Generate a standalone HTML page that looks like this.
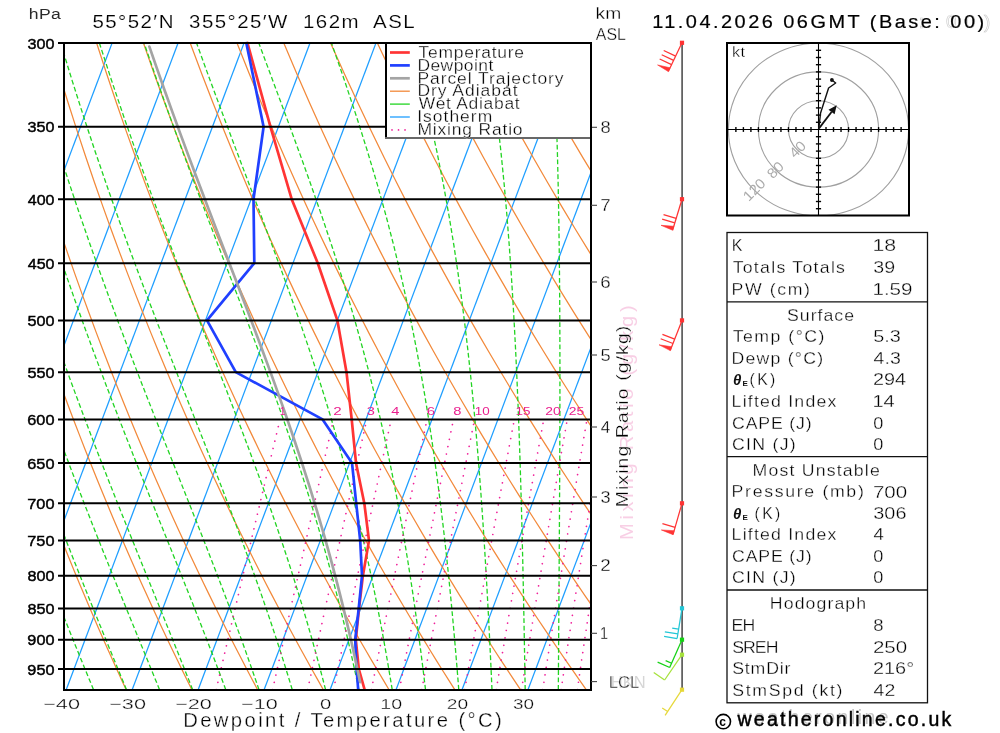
<!DOCTYPE html><html><head><meta charset="utf-8"><title>Skew-T Log-P diagram</title><style>html,body{margin:0;padding:0;background:#fff;overflow:hidden}svg{display:block}text{white-space:pre}.th{stroke:#fff;stroke-width:0.3px}.th2{stroke:#fff;stroke-width:0.15px}</style></head><body>
<svg width="1000" height="733" viewBox="0 0 1000 733" font-family="Liberation Sans, Arial, sans-serif">
<rect width="1000" height="733" fill="#fff"/>
<defs><clipPath id="pc"><rect x="64" y="43" width="527" height="647"/></clipPath><clipPath id="hc"><rect x="728" y="44" width="180.5" height="171"/></clipPath></defs>
<g clip-path="url(#pc)" fill="none">
<g stroke="#1e9eff" stroke-width="1.25"><line x1="-395.59" y1="689.7" x2="-151.78" y2="43"/><line x1="-329.62" y1="689.7" x2="-85.81" y2="43"/><line x1="-263.65" y1="689.7" x2="-19.84" y2="43"/><line x1="-197.68" y1="689.7" x2="46.13" y2="43"/><line x1="-131.71" y1="689.7" x2="112.1" y2="43"/><line x1="-65.74" y1="689.7" x2="178.07" y2="43"/><line x1="0.23" y1="689.7" x2="244.04" y2="43"/><line x1="66.2" y1="689.7" x2="310.01" y2="43"/><line x1="132.17" y1="689.7" x2="375.98" y2="43"/><line x1="198.14" y1="689.7" x2="441.95" y2="43"/><line x1="264.11" y1="689.7" x2="507.92" y2="43"/><line x1="330.08" y1="689.7" x2="573.89" y2="43"/><line x1="396.05" y1="689.7" x2="639.86" y2="43"/><line x1="462.02" y1="689.7" x2="705.83" y2="43"/><line x1="527.99" y1="689.7" x2="771.8" y2="43"/><line x1="593.96" y1="689.7" x2="837.77" y2="43"/></g>
<g stroke="#f2893a" stroke-width="1.25"><polyline points="60.43,689.7 56.26,679.92 52.06,669.96 47.82,659.82 43.54,649.48 39.23,638.94 34.88,628.19 30.49,617.23 26.05,606.04 21.58,594.61 17.07,582.94 12.51,571.01 7.91,558.82 3.27,546.34 -1.42,533.57 -6.16,520.49 -10.95,507.1 -15.78,493.36 -20.67,479.26 -25.61,464.79 -30.6,449.93 -35.64,434.64 -40.74,418.91 -45.9,402.72 -51.12,386.02 -56.4,368.8 -61.74,351.01 -67.14,332.62 -72.61,313.58 -78.14,293.86 -83.74,273.38 -89.41,252.11 -95.14,229.97 -100.95,206.89 -106.83,182.78 -112.78,157.56 -118.8,131.1 -124.9,103.29 -131.06,73.98 -137.28,43"/><polyline points="126.15,689.7 121.65,679.92 117.1,669.96 112.52,659.82 107.89,649.48 103.22,638.94 98.51,628.19 93.75,617.23 88.95,606.04 84.1,594.61 79.21,582.94 74.26,571.01 69.27,558.82 64.22,546.34 59.12,533.57 53.97,520.49 48.76,507.1 43.5,493.36 38.17,479.26 32.79,464.79 27.34,449.93 21.83,434.64 16.26,418.91 10.62,402.72 4.91,386.02 -0.88,368.8 -6.73,351.01 -12.66,332.62 -18.67,313.58 -24.76,293.86 -30.93,273.38 -37.19,252.11 -43.53,229.97 -49.96,206.89 -56.48,182.78 -63.09,157.56 -69.8,131.1 -76.61,103.29 -83.5,73.98 -90.5,43"/><polyline points="191.87,689.7 187.03,679.92 182.14,669.96 177.21,659.82 172.24,649.48 167.21,638.94 162.14,628.19 157.02,617.23 151.85,606.04 146.62,594.61 141.34,582.94 136.01,571.01 130.62,558.82 125.17,546.34 119.67,533.57 114.1,520.49 108.47,507.1 102.78,493.36 97.02,479.26 91.19,464.79 85.29,449.93 79.31,434.64 73.26,418.91 67.14,402.72 60.93,386.02 54.65,368.8 48.27,351.01 41.81,332.62 35.26,313.58 28.62,293.86 21.88,273.38 15.03,252.11 8.09,229.97 1.03,206.89 -6.13,182.78 -13.41,157.56 -20.8,131.1 -28.31,103.29 -35.95,73.98 -43.71,43"/><polyline points="257.6,689.7 252.42,679.92 247.19,669.96 241.91,659.82 236.58,649.48 231.2,638.94 225.77,628.19 220.28,617.23 214.74,606.04 209.14,594.61 203.48,582.94 197.76,571.01 191.97,558.82 186.13,546.34 180.21,533.57 174.23,520.49 168.18,507.1 162.06,493.36 155.86,479.26 149.58,464.79 143.23,449.93 136.79,434.64 130.27,418.91 123.66,402.72 116.96,386.02 110.17,368.8 103.28,351.01 96.29,332.62 89.2,313.58 82,293.86 74.68,273.38 67.25,252.11 59.7,229.97 52.03,206.89 44.22,182.78 36.28,157.56 28.2,131.1 19.98,103.29 11.6,73.98 3.07,43"/><polyline points="323.32,689.7 317.8,679.92 312.23,669.96 306.61,659.82 300.93,649.48 295.2,638.94 289.4,628.19 283.55,617.23 277.64,606.04 271.66,594.61 265.62,582.94 259.51,571.01 253.33,558.82 247.08,546.34 240.76,533.57 234.36,520.49 227.89,507.1 221.33,493.36 214.7,479.26 207.98,464.79 201.17,449.93 194.27,434.64 187.27,418.91 180.18,402.72 172.99,386.02 165.69,368.8 158.29,351.01 150.77,332.62 143.13,313.58 135.37,293.86 127.49,273.38 119.47,252.11 111.32,229.97 103.02,206.89 94.57,182.78 85.97,157.56 77.21,131.1 68.27,103.29 59.16,73.98 49.86,43"/><polyline points="389.04,689.7 383.19,679.92 377.28,669.96 371.31,659.82 365.28,649.48 359.19,638.94 353.04,628.19 346.82,617.23 340.53,606.04 334.18,594.61 327.75,582.94 321.25,571.01 314.68,558.82 308.03,546.34 301.3,533.57 294.49,520.49 287.6,507.1 280.61,493.36 273.54,479.26 266.37,464.79 259.11,449.93 251.75,434.64 244.28,418.91 236.7,402.72 229.02,386.02 221.21,368.8 213.29,351.01 205.24,332.62 197.07,313.58 188.75,293.86 180.3,273.38 171.69,252.11 162.94,229.97 154.02,206.89 144.93,182.78 135.66,157.56 126.21,131.1 116.56,103.29 106.71,73.98 96.64,43"/><polyline points="454.76,689.7 448.57,679.92 442.32,669.96 436.01,659.82 429.63,649.48 423.18,638.94 416.67,628.19 410.08,617.23 403.43,606.04 396.7,594.61 389.89,582.94 383,571.01 376.04,558.82 368.99,546.34 361.85,533.57 354.62,520.49 347.3,507.1 339.89,493.36 332.38,479.26 324.77,464.79 317.05,449.93 309.22,434.64 301.28,418.91 293.22,402.72 285.04,386.02 276.74,368.8 268.3,351.01 259.72,332.62 251,313.58 242.13,293.86 233.1,273.38 223.91,252.11 214.55,229.97 205.01,206.89 195.28,182.78 185.35,157.56 175.21,131.1 164.85,103.29 154.26,73.98 143.43,43"/><polyline points="520.49,689.7 513.96,679.92 507.37,669.96 500.71,659.82 493.98,649.48 487.17,638.94 480.3,628.19 473.35,617.23 466.32,606.04 459.21,594.61 452.03,582.94 444.75,571.01 437.39,558.82 429.94,546.34 422.39,533.57 414.75,520.49 407.01,507.1 399.17,493.36 391.22,479.26 383.16,464.79 374.99,449.93 366.7,434.64 358.29,418.91 349.75,402.72 341.07,386.02 332.26,368.8 323.3,351.01 314.2,332.62 304.94,313.58 295.51,293.86 285.91,273.38 276.13,252.11 266.17,229.97 256,206.89 245.63,182.78 235.04,157.56 224.21,131.1 213.14,103.29 201.82,73.98 190.21,43"/><polyline points="586.21,689.7 579.34,679.92 572.41,669.96 565.4,659.82 558.32,649.48 551.17,638.94 543.93,628.19 536.62,617.23 529.22,606.04 521.73,594.61 514.16,582.94 506.5,571.01 498.74,558.82 490.89,546.34 482.94,533.57 474.88,520.49 466.72,507.1 458.45,493.36 450.06,479.26 441.56,464.79 432.93,449.93 424.18,434.64 415.29,418.91 406.27,402.72 397.1,386.02 387.78,368.8 378.31,351.01 368.68,332.62 358.87,313.58 348.89,293.86 338.72,273.38 328.35,252.11 317.78,229.97 307,206.89 295.98,182.78 284.73,157.56 273.22,131.1 261.44,103.29 249.37,73.98 237,43"/><polyline points="651.93,689.7 644.73,679.92 637.45,669.96 630.1,659.82 622.67,649.48 615.16,638.94 607.56,628.19 599.88,617.23 592.11,606.04 584.25,594.61 576.3,582.94 568.25,571.01 560.1,558.82 551.84,546.34 543.48,533.57 535.01,520.49 526.43,507.1 517.73,493.36 508.91,479.26 499.95,464.79 490.87,449.93 481.66,434.64 472.3,418.91 462.79,402.72 453.13,386.02 443.31,368.8 433.32,351.01 423.15,332.62 412.81,313.58 402.27,293.86 391.53,273.38 380.57,252.11 369.4,229.97 357.99,206.89 346.33,182.78 334.42,157.56 322.22,131.1 309.73,103.29 296.92,73.98 283.78,43"/><polyline points="717.65,689.7 710.12,679.92 702.5,669.96 694.8,659.82 687.02,649.48 679.15,638.94 671.2,628.19 663.15,617.23 655.01,606.04 646.77,594.61 638.43,582.94 630,571.01 621.45,558.82 612.8,546.34 604.03,533.57 595.14,520.49 586.14,507.1 577.01,493.36 567.75,479.26 558.35,464.79 548.81,449.93 539.13,434.64 529.3,418.91 519.31,402.72 509.15,386.02 498.83,368.8 488.32,351.01 477.63,332.62 466.74,313.58 455.64,293.86 444.33,273.38 432.79,252.11 421.02,229.97 408.98,206.89 396.69,182.78 384.1,157.56 371.22,131.1 358.02,103.29 344.48,73.98 330.57,43"/><polyline points="783.38,689.7 775.5,679.92 767.54,669.96 759.5,659.82 751.37,649.48 743.14,638.94 734.83,628.19 726.41,617.23 717.9,606.04 709.29,594.61 700.57,582.94 691.74,571.01 682.8,558.82 673.75,546.34 664.57,533.57 655.27,520.49 645.85,507.1 636.29,493.36 626.59,479.26 616.75,464.79 606.76,449.93 596.61,434.64 586.3,418.91 575.83,402.72 565.18,386.02 554.35,368.8 543.33,351.01 532.11,332.62 520.67,313.58 509.02,293.86 497.14,273.38 485.01,252.11 472.63,229.97 459.98,206.89 447.04,182.78 433.79,157.56 420.22,131.1 406.31,103.29 392.03,73.98 377.36,43"/><polyline points="849.1,689.7 840.89,679.92 832.59,669.96 824.2,659.82 815.71,649.48 807.14,638.94 798.46,628.19 789.68,617.23 780.8,606.04 771.81,594.61 762.71,582.94 753.49,571.01 744.16,558.82 734.7,546.34 725.12,533.57 715.4,520.49 705.56,507.1 695.57,493.36 685.43,479.26 675.14,464.79 664.7,449.93 654.09,434.64 643.31,418.91 632.35,402.72 621.21,386.02 609.87,368.8 598.33,351.01 586.58,332.62 574.61,313.58 562.4,293.86 549.95,273.38 537.23,252.11 524.25,229.97 510.97,206.89 497.39,182.78 483.48,157.56 469.23,131.1 454.6,103.29 439.58,73.98 424.14,43"/><polyline points="914.82,689.7 906.27,679.92 897.63,669.96 888.9,659.82 880.06,649.48 871.13,638.94 862.09,628.19 852.95,617.23 843.69,606.04 834.33,594.61 824.84,582.94 815.24,571.01 805.51,558.82 795.65,546.34 785.66,533.57 775.54,520.49 765.26,507.1 754.84,493.36 744.27,479.26 733.54,464.79 722.64,449.93 711.57,434.64 700.31,418.91 688.87,402.72 677.24,386.02 665.4,368.8 653.34,351.01 641.06,332.62 628.54,313.58 615.78,293.86 602.75,273.38 589.45,252.11 575.86,229.97 561.97,206.89 547.74,182.78 533.17,157.56 518.23,131.1 502.89,103.29 487.14,73.98 470.93,43"/><polyline points="980.54,689.7 971.66,679.92 962.68,669.96 953.59,659.82 944.41,649.48 935.12,638.94 925.72,628.19 916.21,617.23 906.59,606.04 896.85,594.61 886.98,582.94 876.99,571.01 866.87,558.82 856.61,546.34 846.21,533.57 835.67,520.49 824.97,507.1 814.12,493.36 803.11,479.26 791.93,464.79 780.58,449.93 769.04,434.64 757.32,418.91 745.39,402.72 733.26,386.02 720.92,368.8 708.35,351.01 695.54,332.62 682.48,313.58 669.16,293.86 655.56,273.38 641.67,252.11 627.48,229.97 612.96,206.89 598.09,182.78 582.86,157.56 567.23,131.1 551.19,103.29 534.69,73.98 517.71,43"/><polyline points="1046.27,689.7 1037.04,679.92 1027.72,669.96 1018.29,659.82 1008.76,649.48 999.11,638.94 989.35,628.19 979.48,617.23 969.48,606.04 959.36,594.61 949.12,582.94 938.74,571.01 928.22,558.82 917.56,546.34 906.75,533.57 895.8,520.49 884.68,507.1 873.4,493.36 861.95,479.26 850.33,464.79 838.52,449.93 826.52,434.64 814.32,418.91 801.92,402.72 789.29,386.02 776.44,368.8 763.35,351.01 750.01,332.62 736.41,313.58 722.54,293.86 708.37,273.38 693.89,252.11 679.1,229.97 663.95,206.89 648.44,182.78 632.55,157.56 616.23,131.1 599.48,103.29 582.24,73.98 564.5,43"/><polyline points="1111.99,689.7 1102.43,679.92 1092.76,669.96 1082.99,659.82 1073.11,649.48 1063.11,638.94 1052.99,628.19 1042.75,617.23 1032.38,606.04 1021.88,594.61 1011.25,582.94 1000.48,571.01 989.57,558.82 978.51,546.34 967.3,533.57 955.93,520.49 944.39,507.1 932.68,493.36 920.79,479.26 908.72,464.79 896.46,449.93 884,434.64 871.33,418.91 858.44,402.72 845.32,386.02 831.96,368.8 818.36,351.01 804.49,332.62 790.35,313.58 775.91,293.86 761.18,273.38 746.11,252.11 730.71,229.97 714.95,206.89 698.8,182.78 682.24,157.56 665.24,131.1 647.77,103.29 629.8,73.98 611.28,43"/><polyline points="1177.71,689.7 1167.81,679.92 1157.81,669.96 1147.69,659.82 1137.45,649.48 1127.1,638.94 1116.62,628.19 1106.01,617.23 1095.28,606.04 1084.4,594.61 1073.39,582.94 1062.23,571.01 1050.93,558.82 1039.47,546.34 1027.84,533.57 1016.06,520.49 1004.1,507.1 991.96,493.36 979.64,479.26 967.12,464.79 954.4,449.93 941.48,434.64 928.33,418.91 914.96,402.72 901.35,386.02 887.49,368.8 873.36,351.01 858.97,332.62 844.28,313.58 829.29,293.86 813.98,273.38 798.34,252.11 782.33,229.97 765.94,206.89 749.15,182.78 731.92,157.56 714.24,131.1 696.06,103.29 677.35,73.98 658.07,43"/><polyline points="1243.43,689.7 1233.2,679.92 1222.85,669.96 1212.39,659.82 1201.8,649.48 1191.09,638.94 1180.25,628.19 1169.28,617.23 1158.17,606.04 1146.92,594.61 1135.53,582.94 1123.98,571.01 1112.28,558.82 1100.42,546.34 1088.39,533.57 1076.19,520.49 1063.81,507.1 1051.24,493.36 1038.48,479.26 1025.52,464.79 1012.34,449.93 998.95,434.64 985.34,418.91 971.48,402.72 957.37,386.02 943.01,368.8 928.37,351.01 913.44,332.62 898.22,313.58 882.67,293.86 866.79,273.38 850.56,252.11 833.94,229.97 816.93,206.89 799.5,182.78 781.61,157.56 763.24,131.1 744.35,103.29 724.9,73.98 704.85,43"/><polyline points="1309.15,689.7 1298.58,679.92 1287.9,669.96 1277.09,659.82 1266.15,649.48 1255.08,638.94 1243.88,628.19 1232.55,617.23 1221.07,606.04 1209.44,594.61 1197.66,582.94 1185.73,571.01 1173.63,558.82 1161.37,546.34 1148.93,533.57 1136.32,520.49 1123.51,507.1 1110.52,493.36 1097.32,479.26 1083.91,464.79 1070.29,449.93 1056.43,434.64 1042.34,418.91 1028,402.72 1013.4,386.02 998.53,368.8 983.38,351.01 967.92,332.62 952.15,313.58 936.05,293.86 919.6,273.38 902.78,252.11 885.56,229.97 867.93,206.89 849.85,182.78 831.3,157.56 812.24,131.1 792.64,103.29 772.46,73.98 751.64,43"/><polyline points="1374.88,689.7 1363.97,679.92 1352.94,669.96 1341.78,659.82 1330.5,649.48 1319.07,638.94 1307.51,628.19 1295.81,617.23 1283.96,606.04 1271.96,594.61 1259.8,582.94 1247.48,571.01 1234.99,558.82 1222.32,546.34 1209.48,533.57 1196.45,520.49 1183.22,507.1 1169.8,493.36 1156.16,479.26 1142.31,464.79 1128.23,449.93 1113.91,434.64 1099.34,418.91 1084.52,402.72 1069.43,386.02 1054.05,368.8 1038.38,351.01 1022.4,332.62 1006.09,313.58 989.43,293.86 972.41,273.38 955,252.11 937.18,229.97 918.92,206.89 900.2,182.78 880.99,157.56 861.25,131.1 840.94,103.29 820.01,73.98 798.42,43"/></g>
<g stroke="#22d422" stroke-width="1.3" stroke-dasharray="4.8 2.6"><polyline points="60.58,689.7 55.38,676.91 50.1,663.81 44.73,650.38 39.27,636.62 33.73,622.5 28.1,608 22.39,593.1 16.58,577.79 10.69,562.02 4.71,545.79 -1.37,529.06 -7.53,511.79 -13.79,493.96 -20.15,475.52 -26.6,456.44 -33.15,436.66 -39.81,416.13 -46.56,394.8 -53.42,372.59 -60.39,349.43 -67.47,325.25 -74.67,299.94 -81.98,273.38 -89.41,245.47 -96.96,216.04 -104.63,184.92 -112.43,151.92 -120.34,116.77 -128.38,79.2 -135.72,43"/><polyline points="93.53,689.7 88.25,676.91 82.87,663.81 77.4,650.38 71.82,636.62 66.14,622.5 60.35,608 54.47,593.1 48.48,577.79 42.39,562.02 36.2,545.79 29.9,529.06 23.49,511.79 16.98,493.96 10.36,475.52 3.63,456.44 -3.21,436.66 -10.17,416.13 -17.24,394.8 -24.43,372.59 -31.74,349.43 -39.17,325.25 -46.73,299.94 -54.43,273.38 -62.25,245.47 -70.22,216.04 -78.32,184.92 -86.57,151.92 -94.96,116.77 -103.5,79.2 -111.3,43"/><polyline points="126.51,689.7 121.22,676.91 115.82,663.81 110.29,650.38 104.64,636.62 98.87,622.5 92.98,608 86.97,593.1 80.84,577.79 74.59,562.02 68.21,545.79 61.71,529.06 55.09,511.79 48.35,493.96 41.48,475.52 34.49,456.44 27.36,436.66 20.11,416.13 12.73,394.8 5.22,372.59 -2.44,349.43 -10.23,325.25 -18.16,299.94 -26.24,273.38 -34.47,245.47 -42.86,216.04 -51.41,184.92 -60.11,151.92 -68.99,116.77 -78.03,79.2 -86.31,43"/><polyline points="159.55,689.7 154.33,676.91 148.97,663.81 143.47,650.38 137.83,636.62 132.04,622.5 126.11,608 120.04,593.1 113.82,577.79 107.46,562.02 100.95,545.79 94.29,529.06 87.5,511.79 80.55,493.96 73.46,475.52 66.23,456.44 58.84,436.66 51.31,416.13 43.63,394.8 35.79,372.59 27.8,349.43 19.65,325.25 11.34,299.94 2.87,273.38 -5.78,245.47 -14.6,216.04 -23.59,184.92 -32.78,151.92 -42.15,116.77 -51.71,79.2 -60.49,43"/><polyline points="192.64,689.7 187.59,676.91 182.38,663.81 177.01,650.38 171.47,636.62 165.76,622.5 159.88,608 153.83,593.1 147.61,577.79 141.22,562.02 134.65,545.79 127.9,529.06 120.99,511.79 113.9,493.96 106.63,475.52 99.19,456.44 91.58,436.66 83.79,416.13 75.82,394.8 67.68,372.59 59.36,349.43 50.86,325.25 42.17,299.94 33.29,273.38 24.23,245.47 14.96,216.04 5.5,184.92 -4.18,151.92 -14.07,116.77 -24.18,79.2 -33.47,43"/><polyline points="225.79,689.7 221.02,676.91 216.08,663.81 210.95,650.38 205.63,636.62 200.12,622.5 194.42,608 188.51,593.1 182.4,577.79 176.09,562.02 169.57,545.79 162.83,529.06 155.89,511.79 148.74,493.96 141.37,475.52 133.79,456.44 126.01,436.66 118.01,416.13 109.8,394.8 101.38,372.59 92.75,349.43 83.9,325.25 74.84,299.94 65.57,273.38 56.07,245.47 46.35,216.04 36.4,184.92 26.21,151.92 15.77,116.77 5.09,79.2 -4.75,43"/><polyline points="259,689.7 254.63,676.91 250.07,663.81 245.32,650.38 240.36,636.62 235.19,622.5 229.8,608 224.18,593.1 218.34,577.79 212.25,562.02 205.92,545.79 199.35,529.06 192.52,511.79 185.43,493.96 178.09,475.52 170.49,456.44 162.63,436.66 154.51,416.13 146.13,394.8 137.49,372.59 128.6,349.43 119.45,325.25 110.04,299.94 100.37,273.38 90.44,245.47 80.25,216.04 69.79,184.92 59.06,151.92 48.05,116.77 36.75,79.2 26.32,43"/><polyline points="292.27,689.7 288.39,676.91 284.33,663.81 280.07,650.38 275.6,636.62 270.92,622.5 266.01,608 260.85,593.1 255.45,577.79 249.77,562.02 243.83,545.79 237.6,529.06 231.08,511.79 224.26,493.96 217.13,475.52 209.68,456.44 201.92,436.66 193.84,416.13 185.43,394.8 176.7,372.59 167.64,349.43 158.27,325.25 148.57,299.94 138.56,273.38 128.22,245.47 117.57,216.04 106.6,184.92 95.3,151.92 83.67,116.77 71.71,79.2 60.64,43"/><polyline points="325.57,689.7 322.26,676.91 318.78,663.81 315.12,650.38 311.26,636.62 307.2,622.5 302.91,608 298.37,593.1 293.59,577.79 288.53,562.02 283.19,545.79 277.55,529.06 271.58,511.79 265.27,493.96 258.62,475.52 251.6,456.44 244.2,436.66 236.4,416.13 228.21,394.8 219.61,372.59 210.61,349.43 201.19,325.25 191.35,299.94 181.11,273.38 170.46,245.47 159.4,216.04 147.94,184.92 136.08,151.92 123.82,116.77 111.14,79.2 99.39,43"/><polyline points="358.89,689.7 356.19,676.91 353.34,663.81 350.34,650.38 347.16,636.62 343.8,622.5 340.24,608 336.46,593.1 332.44,577.79 328.18,562.02 323.64,545.79 318.8,529.06 313.64,511.79 308.14,493.96 302.27,475.52 296.01,456.44 289.32,436.66 282.2,416.13 274.6,394.8 266.51,372.59 257.92,349.43 248.8,325.25 239.15,299.94 228.96,273.38 218.23,245.47 206.96,216.04 195.15,184.92 182.81,151.92 169.94,116.77 156.56,79.2 144.06,43"/><polyline points="392.21,689.7 390.11,676.91 387.9,663.81 385.57,650.38 383.09,636.62 380.47,622.5 377.68,608 374.72,593.1 371.56,577.79 368.18,562.02 364.57,545.79 360.7,529.06 356.55,511.79 352.09,493.96 347.28,475.52 342.1,456.44 336.51,436.66 330.47,416.13 323.93,394.8 316.87,372.59 309.24,349.43 300.99,325.25 292.09,299.94 282.5,273.38 272.21,245.47 261.19,216.04 249.42,184.92 236.92,151.92 223.69,116.77 209.72,79.2 196.55,43"/><polyline points="425.51,689.7 423.98,676.91 422.37,663.81 420.67,650.38 418.87,636.62 416.96,622.5 414.93,608 412.77,593.1 410.46,577.79 407.99,562.02 405.33,545.79 402.48,529.06 399.41,511.79 396.09,493.96 392.5,475.52 388.59,456.44 384.34,436.66 379.7,416.13 374.63,394.8 369.07,372.59 362.96,349.43 356.24,325.25 348.84,299.94 340.69,273.38 331.7,245.47 321.83,216.04 310.99,184.92 299.14,151.92 286.24,116.77 272.28,79.2 258.8,43"/><polyline points="458.77,689.7 457.76,676.91 456.69,663.81 455.56,650.38 454.37,636.62 453.11,622.5 451.76,608 450.33,593.1 448.8,577.79 447.16,562.02 445.4,545.79 443.5,529.06 441.45,511.79 439.23,493.96 436.82,475.52 434.2,456.44 431.32,436.66 428.17,416.13 424.69,394.8 420.84,372.59 416.56,349.43 411.8,325.25 406.46,299.94 400.47,273.38 393.72,245.47 386.09,216.04 377.45,184.92 367.66,151.92 356.57,116.77 344.06,79.2 331.5,43"/><polyline points="491.99,689.7 491.42,676.91 490.82,663.81 490.18,650.38 489.51,636.62 488.8,622.5 488.04,608 487.23,593.1 486.37,577.79 485.44,562.02 484.45,545.79 483.37,529.06 482.21,511.79 480.95,493.96 479.57,475.52 478.07,456.44 476.41,436.66 474.59,416.13 472.57,394.8 470.31,372.59 467.79,349.43 464.95,325.25 461.74,299.94 458.08,273.38 453.9,245.47 449.07,216.04 443.48,184.92 436.95,151.92 429.29,116.77 420.25,79.2 410.7,43"/><polyline points="525.18,689.7 524.97,676.91 524.75,663.81 524.52,650.38 524.27,636.62 524.01,622.5 523.73,608 523.44,593.1 523.12,577.79 522.77,562.02 522.39,545.79 521.99,529.06 521.54,511.79 521.05,493.96 520.5,475.52 519.9,456.44 519.23,436.66 518.48,416.13 517.63,394.8 516.67,372.59 515.58,349.43 514.32,325.25 512.88,299.94 511.21,273.38 509.25,245.47 506.96,216.04 504.23,184.92 500.96,151.92 497.02,116.77 492.21,79.2 486.93,43"/><polyline points="558.32,689.7 558.4,676.91 558.49,663.81 558.58,650.38 558.67,636.62 558.77,622.5 558.86,608 558.97,593.1 559.07,577.79 559.18,562.02 559.28,545.79 559.39,529.06 559.49,511.79 559.59,493.96 559.68,475.52 559.76,456.44 559.84,436.66 559.89,416.13 559.92,394.8 559.93,372.59 559.9,349.43 559.82,325.25 559.69,299.94 559.48,273.38 559.18,245.47 558.75,216.04 558.17,184.92 557.38,151.92 556.31,116.77 554.89,79.2 553.19,43"/><polyline points="591.43,689.7 591.73,676.91 592.05,663.81 592.39,650.38 592.74,636.62 593.1,622.5 593.49,608 593.89,593.1 594.32,577.79 594.76,562.02 595.23,545.79 595.71,529.06 596.22,511.79 596.76,493.96 597.32,475.52 597.9,456.44 598.51,436.66 599.15,416.13 599.82,394.8 600.51,372.59 601.23,349.43 601.98,325.25 602.76,299.94 603.57,273.38 604.4,245.47 605.24,216.04 606.1,184.92 606.96,151.92 607.81,116.77 608.62,79.2 609.29,43"/></g>
<g stroke="#f0209a" stroke-width="1.7" stroke-dasharray="0.01 7.5" stroke-linecap="round"><polyline points="216.17,689.7 220.76,669.99 225.53,649.54 230.5,628.29 235.69,606.17 241.11,583.11 246.79,559.04 252.74,533.84 259.01,507.42 265.62,479.64 272.6,450.37 280.01,419.43"/><polyline points="272.62,689.7 276.99,669.99 281.54,649.54 286.28,628.29 291.22,606.17 296.39,583.11 301.81,559.04 307.5,533.84 313.48,507.42 319.8,479.64 326.48,450.37 333.56,419.43"/><polyline points="307.67,689.7 311.9,669.99 316.3,649.54 320.89,628.29 325.68,606.17 330.69,583.11 335.95,559.04 341.46,533.84 347.27,507.42 353.39,479.64 359.88,450.37 366.76,419.43"/><polyline points="333.51,689.7 337.64,669.99 341.93,649.54 346.41,628.29 351.08,606.17 355.97,583.11 361.1,559.04 366.49,533.84 372.16,507.42 378.15,479.64 384.49,450.37 391.22,419.43"/><polyline points="371.4,689.7 375.37,669.99 379.5,649.54 383.81,628.29 388.31,606.17 393.03,583.11 397.97,559.04 403.16,533.84 408.63,507.42 414.41,479.64 420.53,450.37 427.03,419.43"/><polyline points="399.39,689.7 403.23,669.99 407.24,649.54 411.43,628.29 415.8,606.17 420.38,583.11 425.18,559.04 430.23,533.84 435.55,507.42 441.17,479.64 447.12,450.37 453.45,419.43"/><polyline points="421.75,689.7 425.51,669.99 429.42,649.54 433.5,628.29 437.76,606.17 442.23,583.11 446.92,559.04 451.85,533.84 457.05,507.42 462.54,479.64 468.37,450.37 474.55,419.43"/><polyline points="464.72,689.7 468.22,669.99 471.87,649.54 475.68,628.29 479.68,606.17 483.87,583.11 488.27,559.04 492.91,533.84 497.8,507.42 502.98,479.64 508.48,450.37 514.33,419.43"/><polyline points="496.21,689.7 499.55,669.99 503.03,649.54 506.68,628.29 510.5,606.17 514.5,583.11 518.72,559.04 523.16,533.84 527.86,507.42 532.83,479.64 538.11,450.37 543.74,419.43"/><polyline points="521.48,689.7 524.68,669.99 528.03,649.54 531.53,628.29 535.2,606.17 539.05,583.11 543.11,559.04 547.4,533.84 551.92,507.42 556.72,479.64 561.82,450.37 567.26,419.43"/><polyline points="542.71,689.7 545.79,669.99 549.01,649.54 552.38,628.29 555.93,606.17 559.65,583.11 563.57,559.04 567.71,533.84 572.1,507.42 576.74,479.64 581.69,450.37 586.97,419.43"/><polyline points="561.08,689.7 564.05,669.99 567.16,649.54 570.42,628.29 573.85,606.17 577.46,583.11 581.26,559.04 585.27,533.84 589.52,507.42 594.04,479.64 598.84,450.37 603.98,419.43"/><polyline points="577.32,689.7 580.19,669.99 583.2,649.54 586.36,628.29 589.68,606.17 593.18,583.11 596.87,559.04 600.77,533.84 604.91,507.42 609.3,479.64 613.98,450.37 618.98,419.43"/></g>
</g>
<g fill="none" stroke-linejoin="round" stroke-linecap="round" stroke-width="2.7">
<polyline stroke="#ff3434" points="364.6,689.7 358.8,669 355.8,639.63 359,608.59 362.9,575.67 369,540.62 364.3,503.15 356,462.9 351.7,419.43 346.5,372.18 337.4,320.42 317.8,263.2 291.7,199.23 270.4,126.72 247.5,43"/>
<polyline stroke="#2040ff" points="358.2,689.7 356.6,669 355.2,639.63 358.7,608.59 362,575.67 360.2,540.62 356.2,503.15 352,462.9 322.6,419.43 235.8,372.18 207,320.42 254.3,263.2 253.5,199.23 263.6,126.72 246.3,43"/>
<polyline stroke="#a4a4a4" points="360.15,682.21 358.57,674.65 356.93,666.98 355.25,659.2 353.5,651.31 351.71,643.3 349.85,635.17 347.92,626.92 345.94,618.54 343.88,610.03 341.75,601.38 339.54,592.59 337.26,583.66 334.89,574.58 332.43,565.35 329.88,555.95 327.23,546.39 324.49,536.66 321.63,526.75 318.67,516.66 315.6,506.37 312.4,495.89 309.08,485.2 305.62,474.3 302.03,463.17 298.3,451.81 294.42,440.21 290.39,428.35 286.21,416.23 281.86,403.84 277.34,391.15 272.65,378.16 267.79,364.85 262.75,351.21 257.52,337.21 252.11,322.85 246.52,308.09 240.73,292.93 234.75,277.32 228.59,261.26 222.23,244.71 215.68,227.63 208.94,210 202.02,191.78 194.9,172.93 187.6,153.4 180.12,133.14 172.45,112.09 164.59,90.2 156.56,67.39 149.38,46.61"/>
</g>
<g stroke="#000" stroke-width="2"><line x1="58" y1="43" x2="591" y2="43"/><line x1="58" y1="126.72" x2="591" y2="126.72"/><line x1="58" y1="199.23" x2="591" y2="199.23"/><line x1="58" y1="263.2" x2="591" y2="263.2"/><line x1="58" y1="320.42" x2="591" y2="320.42"/><line x1="58" y1="372.18" x2="591" y2="372.18"/><line x1="58" y1="419.43" x2="591" y2="419.43"/><line x1="58" y1="462.9" x2="591" y2="462.9"/><line x1="58" y1="503.15" x2="591" y2="503.15"/><line x1="58" y1="540.62" x2="591" y2="540.62"/><line x1="58" y1="575.67" x2="591" y2="575.67"/><line x1="58" y1="608.59" x2="591" y2="608.59"/><line x1="58" y1="639.63" x2="591" y2="639.63"/><line x1="58" y1="669" x2="591" y2="669"/></g>
<g stroke="#000" stroke-width="2" fill="none"><line x1="64" y1="42" x2="64" y2="691"/><line x1="63" y1="690" x2="592" y2="690"/><line x1="591" y1="42" x2="591" y2="691"/></g>
<text x="279.63" y="414.8" font-size="10.8" fill="#ea1f8e" textLength="5.75" lengthAdjust="spacingAndGlyphs">1</text><text x="333.2" y="414.8" font-size="10.8" fill="#ea1f8e" textLength="8.46" lengthAdjust="spacingAndGlyphs">2</text><text x="366.65" y="414.8" font-size="10.8" fill="#ea1f8e" textLength="8.11" lengthAdjust="spacingAndGlyphs">3</text><text x="391.32" y="414.8" font-size="10.8" fill="#ea1f8e" textLength="8.18" lengthAdjust="spacingAndGlyphs">4</text><text x="426.68" y="414.8" font-size="10.8" fill="#ea1f8e" textLength="8.37" lengthAdjust="spacingAndGlyphs">6</text><text x="453.26" y="414.8" font-size="10.8" fill="#ea1f8e" textLength="8.2" lengthAdjust="spacingAndGlyphs">8</text><text x="474.75" y="414.8" font-size="10.8" fill="#ea1f8e" textLength="14.91" lengthAdjust="spacingAndGlyphs">10</text><text x="515.52" y="414.8" font-size="10.8" fill="#ea1f8e" textLength="14.98" lengthAdjust="spacingAndGlyphs">15</text><text x="545.25" y="414.8" font-size="10.8" fill="#ea1f8e" textLength="15.41" lengthAdjust="spacingAndGlyphs">20</text><text x="568.77" y="414.8" font-size="10.8" fill="#ea1f8e" textLength="15.49" lengthAdjust="spacingAndGlyphs">25</text>
<text x="27.53" y="48.7" font-size="15.4" fill="#000" textLength="26.99" lengthAdjust="spacingAndGlyphs" stroke="#000" stroke-width="0.45">300</text>
<text x="27.53" y="132.42" font-size="15.4" fill="#000" textLength="26.99" lengthAdjust="spacingAndGlyphs" stroke="#000" stroke-width="0.45">350</text>
<text x="27.78" y="204.93" font-size="15.4" fill="#000" textLength="26.74" lengthAdjust="spacingAndGlyphs" stroke="#000" stroke-width="0.45">400</text>
<text x="27.78" y="268.9" font-size="15.4" fill="#000" textLength="26.74" lengthAdjust="spacingAndGlyphs" stroke="#000" stroke-width="0.45">450</text>
<text x="27.45" y="326.12" font-size="15.4" fill="#000" textLength="27.07" lengthAdjust="spacingAndGlyphs" stroke="#000" stroke-width="0.45">500</text>
<text x="27.45" y="377.88" font-size="15.4" fill="#000" textLength="27.07" lengthAdjust="spacingAndGlyphs" stroke="#000" stroke-width="0.45">550</text>
<text x="27.28" y="425.13" font-size="15.4" fill="#000" textLength="27.25" lengthAdjust="spacingAndGlyphs" stroke="#000" stroke-width="0.45">600</text>
<text x="27.28" y="468.6" font-size="15.4" fill="#000" textLength="27.25" lengthAdjust="spacingAndGlyphs" stroke="#000" stroke-width="0.45">650</text>
<text x="27.28" y="508.85" font-size="15.4" fill="#000" textLength="27.25" lengthAdjust="spacingAndGlyphs" stroke="#000" stroke-width="0.45">700</text>
<text x="27.28" y="546.32" font-size="15.4" fill="#000" textLength="27.25" lengthAdjust="spacingAndGlyphs" stroke="#000" stroke-width="0.45">750</text>
<text x="27.45" y="581.37" font-size="15.4" fill="#000" textLength="27.07" lengthAdjust="spacingAndGlyphs" stroke="#000" stroke-width="0.45">800</text>
<text x="27.45" y="614.29" font-size="15.4" fill="#000" textLength="27.07" lengthAdjust="spacingAndGlyphs" stroke="#000" stroke-width="0.45">850</text>
<text x="27.37" y="645.33" font-size="15.4" fill="#000" textLength="27.16" lengthAdjust="spacingAndGlyphs" stroke="#000" stroke-width="0.45">900</text>
<text x="27.37" y="674.7" font-size="15.4" fill="#000" textLength="27.16" lengthAdjust="spacingAndGlyphs" stroke="#000" stroke-width="0.45">950</text>
<text x="43.22" y="708.7" font-size="14.8" fill="#000" textLength="36.76" lengthAdjust="spacingAndGlyphs" class="th">−40</text>
<text x="109.19" y="708.7" font-size="14.8" fill="#000" textLength="36.76" lengthAdjust="spacingAndGlyphs" class="th">−30</text>
<text x="175.16" y="708.7" font-size="14.8" fill="#000" textLength="36.76" lengthAdjust="spacingAndGlyphs" class="th">−20</text>
<text x="241.13" y="708.7" font-size="14.8" fill="#000" textLength="36.76" lengthAdjust="spacingAndGlyphs" class="th">−10</text>
<text x="319.97" y="708.7" font-size="14.8" fill="#000" textLength="11.24" lengthAdjust="spacingAndGlyphs" class="th">0</text>
<text x="380.28" y="708.7" font-size="14.8" fill="#000" textLength="21.8" lengthAdjust="spacingAndGlyphs" class="th">10</text>
<text x="446.76" y="708.7" font-size="14.8" fill="#000" textLength="21.27" lengthAdjust="spacingAndGlyphs" class="th">20</text>
<text x="513.03" y="708.7" font-size="14.8" fill="#000" textLength="20.96" lengthAdjust="spacingAndGlyphs" class="th">30</text>
<text x="174.46" y="726.8" font-size="19.3" fill="#000" letter-spacing="2.28" transform="scale(1.05,1)" class="th">Dewpoint / Temperature (°C)</text>
<text x="25.09" y="18.9" font-size="15.3" fill="#2a2a2a" letter-spacing="0.32" transform="scale(1.15,1)">hPa</text>
<text x="80.42" y="28.1" font-size="17.8" fill="#000" letter-spacing="1.25" transform="scale(1.15,1)" class="th2">55°52′N  355°25′W  162m  ASL</text>
<text x="918.79" y="28.3" font-size="19" fill="none" letter-spacing="8.36" stroke="#c8c8c8" stroke-width="0.6">: 00)</text>
<text x="621.15" y="28.3" font-size="19" fill="#000" letter-spacing="2.36" transform="scale(1.05,1)" stroke="#000" stroke-width="0.2">11.04.2026 06GMT (Base: 00)</text>
<text x="595.55" y="18.8" font-size="15.9" fill="#000" textLength="25.67" lengthAdjust="spacingAndGlyphs" class="th">km</text>
<text x="595.8" y="39.9" font-size="15.9" fill="#000" letter-spacing="0.06" class="th">ASL</text>
<text x="600.11" y="638.9" font-size="15.8" fill="#000" textLength="8.05" lengthAdjust="spacingAndGlyphs" class="th">1</text>
<text x="600.25" y="571.2" font-size="15.8" fill="#000" textLength="10.52" lengthAdjust="spacingAndGlyphs" class="th">2</text>
<text x="600.57" y="502.6" font-size="15.8" fill="#000" textLength="10.08" lengthAdjust="spacingAndGlyphs" class="th">3</text>
<text x="600.86" y="432.6" font-size="15.8" fill="#000" textLength="9.49" lengthAdjust="spacingAndGlyphs" class="th">4</text>
<text x="600.47" y="360.6" font-size="15.8" fill="#000" textLength="10.19" lengthAdjust="spacingAndGlyphs" class="th">5</text>
<text x="600.26" y="287.6" font-size="15.8" fill="#000" textLength="10.41" lengthAdjust="spacingAndGlyphs" class="th">6</text>
<text x="600.25" y="210.9" font-size="15.8" fill="#000" textLength="10.52" lengthAdjust="spacingAndGlyphs" class="th">7</text>
<text x="600.47" y="132.9" font-size="15.8" fill="#000" textLength="10.19" lengthAdjust="spacingAndGlyphs" class="th">8</text>
<g stroke="#444" stroke-width="1.1"><line x1="591" y1="633.3" x2="597" y2="633.3"/><line x1="591" y1="565.6" x2="597" y2="565.6"/><line x1="591" y1="497" x2="597" y2="497"/><line x1="591" y1="427" x2="597" y2="427"/><line x1="591" y1="355" x2="597" y2="355"/><line x1="591" y1="282" x2="597" y2="282"/><line x1="591" y1="205.3" x2="597" y2="205.3"/><line x1="591" y1="127.3" x2="597" y2="127.3"/><line x1="591" y1="681.6" x2="597" y2="681.6"/></g>
<text x="610.68" y="687.5" font-size="16.5" fill="#d6d6d6" letter-spacing="0.12">HKN</text>
<text x="608.68" y="687.5" font-size="16.5" fill="#222" letter-spacing="0.17" class="th">LCL</text>
<g transform="translate(632.5,538.5) rotate(-90)"><text x="-1.4" y="0" font-size="17.5" fill="#f8cfe5" letter-spacing="3.24" transform="scale(1.15,1)">Mixing Ratio (g/kg)</text></g>
<g transform="translate(628.4,505.8) rotate(-90)"><text x="-1.35" y="0" font-size="16.9" fill="#000" letter-spacing="0.95" transform="scale(1.15,1)" class="th">Mixing Ratio (g/kg)</text></g>
<rect x="386" y="44" width="205" height="94" fill="#fff"/><line x1="386" y1="42" x2="386" y2="139" stroke="#000" stroke-width="2"/><line x1="385" y1="138" x2="590" y2="138" stroke="#686868" stroke-width="2"/><line x1="591" y1="42" x2="591" y2="139" stroke="#000" stroke-width="2"/>
<line x1="390" y1="52.5" x2="409.8" y2="52.5" stroke="#ff3434" stroke-width="2.7"/>
<text x="373.62" y="57.8" font-size="15.6" fill="#000" letter-spacing="0.68" transform="scale(1.12,1)" class="th">Temperature</text>
<line x1="390" y1="65.4" x2="409.8" y2="65.4" stroke="#2040ff" stroke-width="2.7"/>
<text x="372.68" y="70.7" font-size="15.6" fill="#000" letter-spacing="0.4" transform="scale(1.12,1)" class="th">Dewpoint</text>
<line x1="390" y1="78.3" x2="409.8" y2="78.3" stroke="#a4a4a4" stroke-width="2.7"/>
<text x="372.68" y="83.6" font-size="15.6" fill="#000" letter-spacing="0.85" transform="scale(1.12,1)" class="th">Parcel Trajectory</text>
<line x1="390" y1="91.2" x2="409.8" y2="91.2" stroke="#f2893a" stroke-width="1.3"/>
<text x="372.68" y="96.5" font-size="15.6" fill="#000" letter-spacing="0.88" transform="scale(1.12,1)" class="th">Dry Adiabat</text>
<line x1="390" y1="104.1" x2="409.8" y2="104.1" stroke="#22d422" stroke-width="1.3"/>
<text x="373.93" y="109.4" font-size="15.6" fill="#000" letter-spacing="0.63" transform="scale(1.12,1)" class="th">Wet Adiabat</text>
<line x1="390" y1="117" x2="409.8" y2="117" stroke="#1e9eff" stroke-width="1.3"/>
<text x="372.52" y="122.3" font-size="15.6" fill="#000" letter-spacing="0.9" transform="scale(1.12,1)" class="th">Isotherm</text>
<line x1="392" y1="129.9" x2="410" y2="129.9" stroke="#f0209a" stroke-width="1.7" stroke-dasharray="0.01 6.5" stroke-linecap="round"/>
<text x="372.68" y="135.2" font-size="15.6" fill="#000" letter-spacing="0.74" transform="scale(1.12,1)" class="th">Mixing Ratio</text>
<line x1="682.1" y1="43.5" x2="682.1" y2="688" stroke="#5a5a5a" stroke-width="1.7"/>
<g stroke="#ff3434" fill="#ff3434" stroke-width="1.25"><rect x="679.9" y="40.7" width="4.2" height="4.2" stroke="none"/><line x1="682" y1="42.8" x2="668.31" y2="71.5"/><polygon stroke-width="0.6" points="668.31,71.5 670.07,67.8 657.59,64.95"/><line x1="671.58" y1="64.64" x2="659.67" y2="58.96"/><line x1="673.61" y1="60.4" x2="661.69" y2="54.72"/><line x1="675.63" y1="56.16" x2="663.71" y2="50.48"/></g>
<g stroke="#ff3434" fill="#ff3434" stroke-width="1.25"><rect x="679.9" y="197.1" width="4.2" height="4.2" stroke="none"/><line x1="682" y1="199.2" x2="672.58" y2="230.2"/><polygon stroke-width="0.6" points="672.58,230.2 673.77,226.28 661,225.32"/><line x1="674.79" y1="222.93" x2="662.16" y2="219.09"/><line x1="676.16" y1="218.43" x2="663.53" y2="214.59"/></g>
<g stroke="#ff3434" fill="#ff3434" stroke-width="1.25"><rect x="679.9" y="318.3" width="4.2" height="4.2" stroke="none"/><line x1="682" y1="320.4" x2="670.23" y2="350.59"/><polygon stroke-width="0.6" points="670.23,350.59 671.72,346.77 659.06,344.83"/><line x1="672.99" y1="343.51" x2="660.69" y2="338.71"/><line x1="674.7" y1="339.13" x2="662.4" y2="334.33"/></g>
<g stroke="#ff3434" fill="#ff3434" stroke-width="1.25"><rect x="679.9" y="501.2" width="4.2" height="4.2" stroke="none"/><line x1="682" y1="503.3" x2="673.01" y2="534.64"/><polygon stroke-width="0.6" points="673.01,534.64 674.14,530.7 661.36,529.94"/><line x1="675.11" y1="527.33" x2="662.42" y2="523.69"/></g>
<g stroke="#22c6d6" fill="#22c6d6" stroke-width="1.25"><rect x="679.9" y="606.2" width="4.2" height="4.2" stroke="none"/><line x1="682" y1="608.3" x2="677.11" y2="638.51"/><line x1="677.11" y1="638.51" x2="664.08" y2="636.4"/><line x1="677.86" y1="633.87" x2="664.83" y2="631.76"/><line x1="678.61" y1="629.23" x2="672.19" y2="628.19"/></g>
<g stroke="#14d214" fill="#14d214" stroke-width="1.25"><rect x="679.9" y="637.6" width="4.2" height="4.2" stroke="none"/><line x1="682" y1="639.7" x2="669.68" y2="667.49"/><line x1="669.68" y1="667.49" x2="657.62" y2="662.15"/><line x1="671.59" y1="663.2" x2="665.65" y2="660.56"/></g>
<g stroke="#a6e23c" fill="#a6e23c" stroke-width="1.25"><rect x="679.9" y="652.6" width="4.2" height="4.2" stroke="none"/><line x1="682" y1="654.7" x2="664.61" y2="680"/><line x1="664.61" y1="680" x2="653.73" y2="672.52"/></g>
<g stroke="#e6d83a" fill="#e6d83a" stroke-width="1.25"><rect x="679.9" y="687.6" width="4.2" height="4.2" stroke="none"/><line x1="682" y1="689.7" x2="665.1" y2="715.33"/><line x1="667.63" y1="711.49" x2="662.21" y2="707.91"/></g>
<g clip-path="url(#hc)" fill="none" stroke="#a0a0a0" stroke-width="1.1"><ellipse cx="818.5" cy="129.5" rx="30.04" ry="28.8"/><ellipse cx="818.5" cy="129.5" rx="60.08" ry="57.6"/><ellipse cx="818.5" cy="129.5" rx="90.12" ry="86.4"/></g>
<rect x="727" y="43" width="182" height="172.5" fill="none" stroke="#000" stroke-width="2"/>
<g stroke="#000" stroke-width="1.1"><line x1="728" y1="129.5" x2="909" y2="129.5"/><line x1="818.5" y1="44" x2="818.5" y2="215"/><line x1="735.89" y1="127.1" x2="735.89" y2="131.9" stroke-width="1.4"/><line x1="815.9" y1="50.3" x2="821.1" y2="50.3" stroke-width="1.4"/><line x1="743.4" y1="127.1" x2="743.4" y2="131.9" stroke-width="1.4"/><line x1="815.9" y1="57.5" x2="821.1" y2="57.5" stroke-width="1.4"/><line x1="750.91" y1="127.1" x2="750.91" y2="131.9" stroke-width="1.4"/><line x1="815.9" y1="64.7" x2="821.1" y2="64.7" stroke-width="1.4"/><line x1="758.42" y1="127.1" x2="758.42" y2="131.9" stroke-width="1.4"/><line x1="815.9" y1="71.9" x2="821.1" y2="71.9" stroke-width="1.4"/><line x1="765.93" y1="127.1" x2="765.93" y2="131.9" stroke-width="1.4"/><line x1="815.9" y1="79.1" x2="821.1" y2="79.1" stroke-width="1.4"/><line x1="773.44" y1="127.1" x2="773.44" y2="131.9" stroke-width="1.4"/><line x1="815.9" y1="86.3" x2="821.1" y2="86.3" stroke-width="1.4"/><line x1="780.95" y1="127.1" x2="780.95" y2="131.9" stroke-width="1.4"/><line x1="815.9" y1="93.5" x2="821.1" y2="93.5" stroke-width="1.4"/><line x1="788.46" y1="127.1" x2="788.46" y2="131.9" stroke-width="1.4"/><line x1="815.9" y1="100.7" x2="821.1" y2="100.7" stroke-width="1.4"/><line x1="795.97" y1="127.1" x2="795.97" y2="131.9" stroke-width="1.4"/><line x1="815.9" y1="107.9" x2="821.1" y2="107.9" stroke-width="1.4"/><line x1="803.48" y1="127.1" x2="803.48" y2="131.9" stroke-width="1.4"/><line x1="815.9" y1="115.1" x2="821.1" y2="115.1" stroke-width="1.4"/><line x1="810.99" y1="127.1" x2="810.99" y2="131.9" stroke-width="1.4"/><line x1="815.9" y1="122.3" x2="821.1" y2="122.3" stroke-width="1.4"/><line x1="826.01" y1="127.1" x2="826.01" y2="131.9" stroke-width="1.4"/><line x1="815.9" y1="136.7" x2="821.1" y2="136.7" stroke-width="1.4"/><line x1="833.52" y1="127.1" x2="833.52" y2="131.9" stroke-width="1.4"/><line x1="815.9" y1="143.9" x2="821.1" y2="143.9" stroke-width="1.4"/><line x1="841.03" y1="127.1" x2="841.03" y2="131.9" stroke-width="1.4"/><line x1="815.9" y1="151.1" x2="821.1" y2="151.1" stroke-width="1.4"/><line x1="848.54" y1="127.1" x2="848.54" y2="131.9" stroke-width="1.4"/><line x1="815.9" y1="158.3" x2="821.1" y2="158.3" stroke-width="1.4"/><line x1="856.05" y1="127.1" x2="856.05" y2="131.9" stroke-width="1.4"/><line x1="815.9" y1="165.5" x2="821.1" y2="165.5" stroke-width="1.4"/><line x1="863.56" y1="127.1" x2="863.56" y2="131.9" stroke-width="1.4"/><line x1="815.9" y1="172.7" x2="821.1" y2="172.7" stroke-width="1.4"/><line x1="871.07" y1="127.1" x2="871.07" y2="131.9" stroke-width="1.4"/><line x1="815.9" y1="179.9" x2="821.1" y2="179.9" stroke-width="1.4"/><line x1="878.58" y1="127.1" x2="878.58" y2="131.9" stroke-width="1.4"/><line x1="815.9" y1="187.1" x2="821.1" y2="187.1" stroke-width="1.4"/><line x1="886.09" y1="127.1" x2="886.09" y2="131.9" stroke-width="1.4"/><line x1="815.9" y1="194.3" x2="821.1" y2="194.3" stroke-width="1.4"/><line x1="893.6" y1="127.1" x2="893.6" y2="131.9" stroke-width="1.4"/><line x1="815.9" y1="201.5" x2="821.1" y2="201.5" stroke-width="1.4"/><line x1="901.11" y1="127.1" x2="901.11" y2="131.9" stroke-width="1.4"/><line x1="815.9" y1="208.7" x2="821.1" y2="208.7" stroke-width="1.4"/></g>
<g transform="translate(797.3,149.3) rotate(-45)"><text x="-8.3" y="5" font-size="14.2" fill="#ababab" textLength="16.87" lengthAdjust="spacingAndGlyphs">40</text></g>
<g transform="translate(775.3,169.9) rotate(-45)"><text x="-8.62" y="5" font-size="14.2" fill="#ababab" textLength="17.2" lengthAdjust="spacingAndGlyphs">80</text></g>
<g transform="translate(754.3,189.4) rotate(-45)"><text x="-12.88" y="5" font-size="14.2" fill="#ababab" textLength="25.22" lengthAdjust="spacingAndGlyphs">120</text></g>
<text x="636.47" y="56.6" font-size="14.2" fill="#000" letter-spacing="0.35" transform="scale(1.15,1)" class="th">kt</text>
<polyline fill="none" stroke="#111" stroke-width="1.4" stroke-linejoin="round" points="818.8,129 820.5,113.3 828.6,88 835.7,83 831.9,80"/>
<circle cx="831.9" cy="80" r="1.9" fill="#111"/>
<line x1="819" y1="128.4" x2="831.54" y2="111.96" stroke="#111" stroke-width="1.8"/>
<polygon fill="#111" points="836.7,105.2 834.57,114.26 828.52,109.65"/>
<g fill="none" stroke="#111" stroke-width="1.3"><rect x="727" y="232.5" width="200.5" height="470.3"/><line x1="727" y1="301.8" x2="927.5" y2="301.8"/><line x1="727" y1="456.6" x2="927.5" y2="456.6"/><line x1="727" y1="590" x2="927.5" y2="590"/></g>
<text x="731.72" y="251.2" font-size="15.8" fill="#000" textLength="10.7" lengthAdjust="spacingAndGlyphs" class="th">K</text>
<text x="872.4" y="251.2" font-size="15.8" fill="#000" textLength="23.7" lengthAdjust="spacingAndGlyphs" class="th">18</text>
<text x="654.15" y="273.1" font-size="15.8" fill="#000" letter-spacing="1.14" transform="scale(1.12,1)" class="th">Totals Totals</text>
<text x="873.31" y="273.1" font-size="15.8" fill="#000" textLength="21.81" lengthAdjust="spacingAndGlyphs" class="th">39</text>
<text x="653.2" y="294.7" font-size="15.8" fill="#000" letter-spacing="1.43" transform="scale(1.12,1)" class="th">PW (cm)</text>
<text x="872.45" y="294.7" font-size="15.8" fill="#000" textLength="40.1" lengthAdjust="spacingAndGlyphs" class="th">1.59</text>
<text x="702.68" y="320.6" font-size="15.8" fill="#000" letter-spacing="0.9" transform="scale(1.12,1)" class="th">Surface</text>
<text x="654.15" y="342.2" font-size="15.8" fill="#000" letter-spacing="1.33" transform="scale(1.12,1)" class="th">Temp (°C)</text>
<text x="873.21" y="342.2" font-size="15.8" fill="#000" textLength="27.59" lengthAdjust="spacingAndGlyphs" class="th">5.3</text>
<text x="653.2" y="364.2" font-size="15.8" fill="#000" letter-spacing="1.08" transform="scale(1.12,1)" class="th">Dewp (°C)</text>
<text x="873.61" y="364.2" font-size="15.8" fill="#000" textLength="27.18" lengthAdjust="spacingAndGlyphs" class="th">4.3</text>
<text x="873.01" y="385.4" font-size="15.8" fill="#000" textLength="33.16" lengthAdjust="spacingAndGlyphs" class="th">294</text>
<text x="653.2" y="406.7" font-size="15.8" fill="#000" letter-spacing="1.08" transform="scale(1.12,1)" class="th">Lifted Index</text>
<text x="872.5" y="406.7" font-size="15.8" fill="#000" textLength="22.25" lengthAdjust="spacingAndGlyphs" class="th">14</text>
<text x="653.67" y="428.7" font-size="15.8" fill="#000" letter-spacing="0.75" transform="scale(1.12,1)" class="th">CAPE (J)</text>
<text x="873.36" y="428.7" font-size="15.8" fill="#000" textLength="10.09" lengthAdjust="spacingAndGlyphs" class="th">0</text>
<text x="653.67" y="450.3" font-size="15.8" fill="#000" letter-spacing="1.12" transform="scale(1.12,1)" class="th">CIN (J)</text>
<text x="873.36" y="450.3" font-size="15.8" fill="#000" textLength="10.09" lengthAdjust="spacingAndGlyphs" class="th">0</text>
<text x="671.95" y="476.2" font-size="15.8" fill="#000" letter-spacing="1.05" transform="scale(1.12,1)" class="th">Most Unstable</text>
<text x="653.2" y="497.5" font-size="15.8" fill="#000" letter-spacing="1.5" transform="scale(1.12,1)" class="th">Pressure (mb)</text>
<text x="872.97" y="497.5" font-size="15.8" fill="#000" textLength="34.22" lengthAdjust="spacingAndGlyphs" class="th">700</text>
<text x="873.3" y="518.7" font-size="15.8" fill="#000" textLength="33.16" lengthAdjust="spacingAndGlyphs" class="th">306</text>
<text x="653.2" y="539.9" font-size="15.8" fill="#000" letter-spacing="1.08" transform="scale(1.12,1)" class="th">Lifted Index</text>
<text x="873.63" y="539.9" font-size="15.8" fill="#000" textLength="10.36" lengthAdjust="spacingAndGlyphs" class="th">4</text>
<text x="653.67" y="561.9" font-size="15.8" fill="#000" letter-spacing="0.75" transform="scale(1.12,1)" class="th">CAPE (J)</text>
<text x="873.36" y="561.9" font-size="15.8" fill="#000" textLength="10.09" lengthAdjust="spacingAndGlyphs" class="th">0</text>
<text x="653.67" y="583.1" font-size="15.8" fill="#000" letter-spacing="1.12" transform="scale(1.12,1)" class="th">CIN (J)</text>
<text x="873.36" y="583.1" font-size="15.8" fill="#000" textLength="10.09" lengthAdjust="spacingAndGlyphs" class="th">0</text>
<text x="687.4" y="609.4" font-size="15.8" fill="#000" letter-spacing="0.97" transform="scale(1.12,1)" class="th">Hodograph</text>
<text x="653.2" y="631.3" font-size="15.8" fill="#000" letter-spacing="-0.68" transform="scale(1.12,1)" class="th">EH</text>
<text x="873.26" y="631.3" font-size="15.8" fill="#000" textLength="10.3" lengthAdjust="spacingAndGlyphs" class="th">8</text>
<text x="653.75" y="652.6" font-size="15.8" fill="#000" letter-spacing="-0.86" transform="scale(1.12,1)" class="th">SREH</text>
<text x="872.97" y="652.6" font-size="15.8" fill="#000" textLength="34.22" lengthAdjust="spacingAndGlyphs" class="th">250</text>
<text x="653.75" y="673.8" font-size="15.8" fill="#000" letter-spacing="0.75" transform="scale(1.12,1)" class="th">StmDir</text>
<text x="873.01" y="673.8" font-size="15.8" fill="#000" textLength="41.16" lengthAdjust="spacingAndGlyphs" class="th">216°</text>
<text x="653.75" y="695.8" font-size="15.8" fill="#000" letter-spacing="1.51" transform="scale(1.12,1)" class="th">StmSpd (kt)</text>
<text x="873.61" y="695.8" font-size="15.8" fill="#000" textLength="21.71" lengthAdjust="spacingAndGlyphs" class="th">42</text>
<text x="733" y="385.4" font-size="15" font-weight="bold" font-style="italic" fill="#111">θ</text>
<text x="742.5" y="386.4" font-size="8" font-weight="bold" fill="#111">E</text>
<text x="749.55" y="385.4" font-size="15.8" fill="#000" letter-spacing="2.35" class="th">(K)</text>
<text x="733" y="518.7" font-size="15" font-weight="bold" font-style="italic" fill="#111">θ</text>
<text x="742.5" y="519.7" font-size="8" font-weight="bold" fill="#111">E</text>
<text x="754.55" y="518.7" font-size="15.8" fill="#000" letter-spacing="2.35" class="th">(K)</text>
<circle cx="723.3" cy="721.6" r="7.2" fill="none" stroke="#000" stroke-width="1.6"/>
<text x="719.2" y="725.6" font-size="12" font-weight="bold" fill="#000">c</text>
<text x="737.5" y="724.3" font-size="19.5" fill="#c4c4c4" letter-spacing="2.48">weatheronline</text>
<text x="737.5" y="726.4" font-size="19.5" fill="#000" letter-spacing="2.24" stroke="#000" stroke-width="0.45">weatheronline.co.uk</text>
</svg></body></html>
